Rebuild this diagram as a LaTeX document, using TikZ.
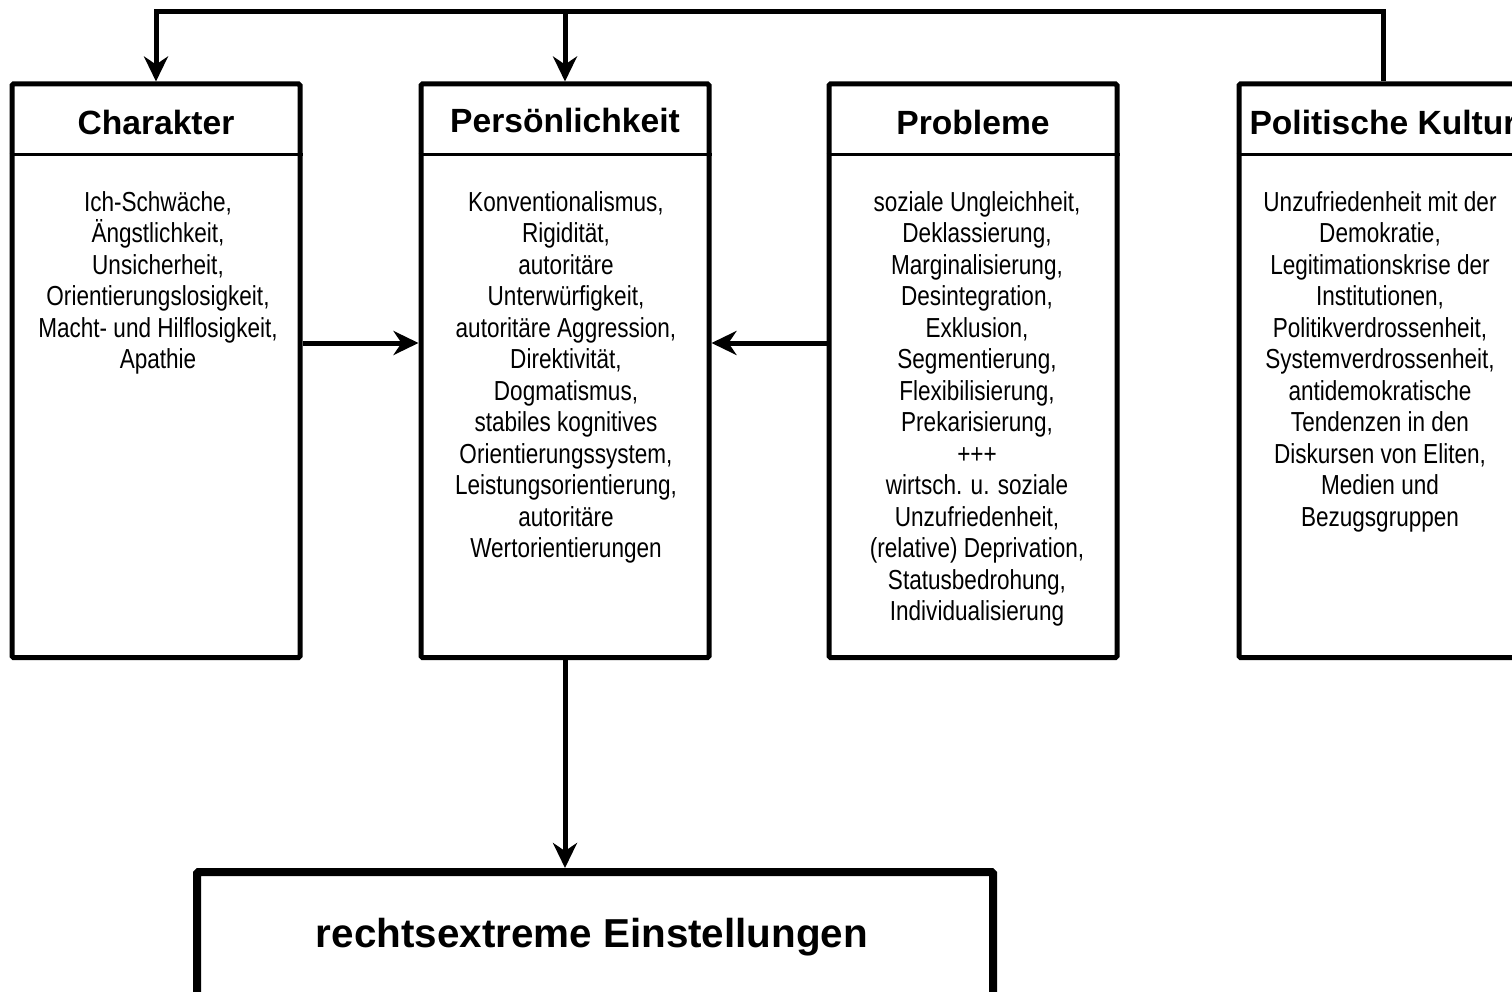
\documentclass[tikz,border=0pt]{standalone}
\usepackage{fontspec}
\setmainfont{Liberation Sans}
\newfontfamily\narrowfont[FakeStretch=0.82]{Liberation Sans}
\usetikzlibrary{arrows.meta}
\begin{document}
\begin{tikzpicture}[x=1pt,y=-1pt,
  box/.style={draw, line width=5pt, rounded corners=1.5pt, inner sep=0pt,
    minimum width=288pt, minimum height=573.5pt},
  resbox/.style={draw, line width=8pt, rounded corners=1.5pt, inner sep=0pt,
    minimum width=796pt, minimum height=138pt},
  title/.style={font=\fontsize{33.6}{40}\selectfont\bfseries, inner sep=0pt},
  body/.style={align=center, inner sep=0pt, anchor=north,
    font=\narrowfont\fontsize{27.5}{31.5}\selectfont},
  sep/.style={line width=3pt},
  conn/.style={line width=5pt},
  arr/.style={line width=5pt, -{Stealth[length=25pt,width=24pt,inset=8pt]}},
]
\useasboundingbox (0,0) rectangle (1512,992);
\clip (0,0) rectangle (1512,992);
\fill[white] (0,0) rectangle (1512,992);

% boxes
\node[box] (char) at (156,370.75) {};
\node[box] (pers) at (565,370.75) {};
\node[box] (prob) at (973,370.75) {};
\node[box] (polit) at (1383,370.75) {};
\node[resbox] (res) at (595,941) {};

% title separators
\coordinate (sepy) at (0,155);
\draw[sep] (char.west |- sepy) -- (char.east |- sepy);
\draw[sep] (pers.west |- sepy) -- (pers.east |- sepy);
\draw[sep] (prob.west |- sepy) -- (prob.east |- sepy);
\draw[sep] (polit.west |- sepy) -- (polit.east |- sepy);

% titles
\node[title] (charT) at (156,122) {Charakter};
\node[title] (persT) at (565,120) {Persönlichkeit};
\node[title] (probT) at (973,122) {Probleme};
\node[title] (politT) at (1383,122) {Politische Kultur};
\node[font=\fontsize{40.4}{48}\selectfont\bfseries, inner sep=0pt] (resT) at (592,937) {rechtsextreme Einstellungen};

% body texts
\node[body] (charB) at (158,191)
  {Ich-Schwäche,\\Ängstlichkeit,\\Unsicherheit,\\Orientierungslosigkeit,\\Macht- und Hilflosigkeit,\\Apathie};
\node[body] (persB) at (566,191)
  {Konventionalismus,\\Rigidität,\\autoritäre\\Unterwürfigkeit,\\autoritäre Aggression,\\Direktivität,\\Dogmatismus,\\stabiles kognitives\\Orientierungssystem,\\Leistungsorientierung,\\autoritäre\\Wertorientierungen};
\node[body] (probB) at (977,191)
  {soziale Ungleichheit,\\Deklassierung,\\Marginalisierung,\\Desintegration,\\Exklusion,\\Segmentierung,\\Flexibilisierung,\\Prekarisierung,\\+++\\wirtsch. u. soziale\\Unzufriedenheit,\\(relative) Deprivation,\\Statusbedrohung,\\Individualisierung};
\node[body] (politB) at (1380,191)
  {Unzufriedenheit mit der\\Demokratie,\\Legitimationskrise der\\Institutionen,\\Politikverdrossenheit,\\Systemverdrossenheit,\\antidemokratische\\Tendenzen in den\\Diskursen von Eliten,\\Medien und\\Bezugsgruppen};

% connectors
\coordinate (topy) at (0,12);
\coordinate (midy) at (0,343);
\draw[arr] (polit.north) |- (char.north |- topy) -- (char.north);
\draw[arr] (pers.north |- topy) -- (pers.north);
\draw[arr] (char.east |- midy) -- (pers.west |- midy);
\draw[arr] (prob.west |- midy) -- (pers.east |- midy);
\draw[arr] (pers.south) -- (pers.south |- res.north);
\end{tikzpicture}
\end{document}
